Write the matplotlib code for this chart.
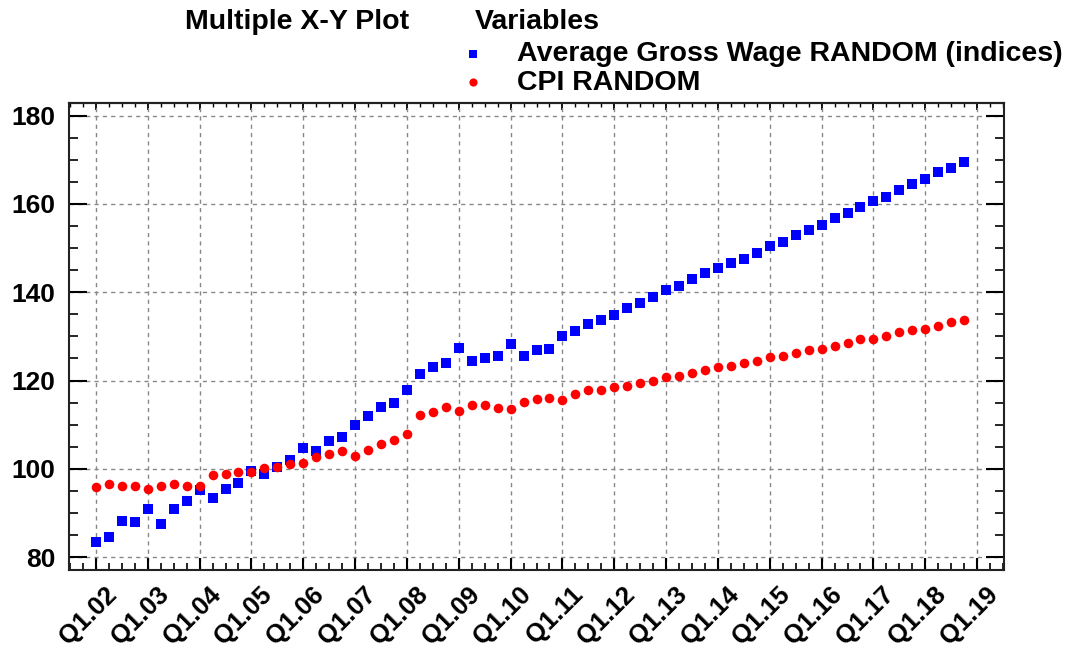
import matplotlib
matplotlib.use('Agg')
import matplotlib.pyplot as plt
import matplotlib.transforms as mtransforms
from matplotlib.ticker import MultipleLocator

plt.rcParams['font.family'] = ['Liberation Sans', 'DejaVu Sans']

# quarterly data Q1.02 .. Q4.18
wage = [83.5, 84.6, 88.3, 88.0,
        90.9, 87.5, 90.9, 92.8,
        95.2, 93.3, 95.5, 96.7,
        99.5, 98.9, 100.5, 101.9,
        104.7, 104.0, 106.3, 107.2,
        110.0, 112.0, 113.9, 114.8,
        117.8, 121.5, 123.0, 124.0,
        127.4, 124.4, 125.2, 125.5,
        128.3, 125.5, 127.0, 127.2,
        130.1, 131.3, 132.7, 133.8,
        134.9, 136.4, 137.5, 138.9,
        140.4, 141.4, 142.9, 144.3,
        145.4, 146.5, 147.6, 148.9,
        150.4, 151.4, 152.9, 154.0,
        155.3, 156.7, 157.9, 159.2,
        160.6, 161.6, 163.1, 164.5,
        165.6, 167.1, 168.2, 169.5]

cpi = [95.8, 96.5, 96.2, 96.2,
       95.5, 96.2, 96.5, 96.2,
       96.2, 98.5, 98.9, 99.2,
       99.2, 100.2, 100.5, 101.1,
       101.4, 102.7, 103.4, 104.0,
       103.0, 104.3, 105.6, 106.5,
       107.9, 112.2, 112.8, 113.9,
       113.1, 114.4, 114.4, 113.8,
       113.6, 115.1, 115.8, 116.1,
       115.6, 116.9, 117.9, 117.9,
       118.5, 118.7, 119.4, 120.0,
       120.8, 121.1, 121.7, 122.3,
       123.0, 123.3, 123.9, 124.5,
       125.3, 125.6, 126.3, 126.9,
       127.2, 127.8, 128.6, 129.3,
       129.5, 130.1, 130.9, 131.5,
       131.7, 132.4, 133.2, 133.8]

years = ['02', '03', '04', '05', '06', '07', '08', '09', '10',
         '11', '12', '13', '14', '15', '16', '17', '18', '19']
tick_labels = ['Q1.' + y for y in years]

x = list(range(len(wage)))

fig = plt.figure(figsize=(10.77, 6.48), dpi=100)
ax = fig.add_axes([0.0643, 0.1204, 0.8682, 0.7211])

ax.scatter(x, wage, marker='s', s=58, color='#0000ff', linewidths=0,
           label='Average Gross Wage RANDOM (indices)', zorder=3)
ax.scatter(x, cpi, marker='o', s=48, color='#ff0000', linewidths=0,
           label='CPI RANDOM', zorder=3)

ax.set_xlim(-2.06, 70.1)
ax.set_ylim(77.1, 182.9)

# x ticks: years major, quarters minor
ax.set_xticks([4 * i for i in range(len(years))])
ax.set_xticklabels(tick_labels)
ax.xaxis.set_minor_locator(MultipleLocator(1))
ax.yaxis.set_major_locator(MultipleLocator(20))
ax.yaxis.set_minor_locator(MultipleLocator(5))

ax.tick_params(axis='y', which='major', direction='in', length=13, width=1.5,
               left=True, right=True, labelsize=19, pad=10)
ax.tick_params(axis='y', which='minor', direction='in', length=6.5, width=1.2,
               left=True, right=True)
ax.tick_params(axis='x', which='major', direction='in', length=8.5, width=1.5,
               bottom=True, top=False, labelsize=18.5, pad=15)
ax.tick_params(axis='x', which='minor', direction='in', length=5, width=1.2,
               bottom=True, top=False)

for lbl in ax.get_yticklabels():
    lbl.set_fontweight('bold')

offset = mtransforms.ScaledTranslation(17 / 100, 0, fig.dpi_scale_trans)
for lbl in ax.get_xticklabels():
    lbl.set_fontweight('bold')
    lbl.set_rotation(45)
    lbl.set_ha('right')
    lbl.set_va('center')
    lbl.set_rotation_mode('anchor')
    lbl.set_transform(lbl.get_transform() + offset)

# top axis with shorter ticks
top = ax.secondary_xaxis('top')
top.set_xticks([4 * i for i in range(len(years))])
top.xaxis.set_minor_locator(MultipleLocator(1))
top.tick_params(axis='x', which='major', direction='in', length=5, width=1.3,
                labeltop=False)
top.tick_params(axis='x', which='minor', direction='in', length=3, width=1.0)
top.spines['top'].set_linewidth(1.5)

for sp in ax.spines.values():
    sp.set_linewidth(1.5)
    sp.set_color('#222222')

ax.grid(True, which='major', linestyle=(0, (3, 3)), color='#888888', linewidth=1)

fig.text(185 / 1077, 1 - 22 / 648, 'Multiple X-Y Plot', fontsize=20.5,
         fontweight='bold', va='center', ha='left')
fig.text(475 / 1077, 1 - 22 / 648, 'Variables', fontsize=20.5,
         fontweight='bold', va='center', ha='left')

leg = ax.legend(loc='upper left', bbox_to_anchor=(464 / 1077, 1 - 41 / 648),
                bbox_transform=fig.transFigure, frameon=False,
                prop={'size': 20.5, 'weight': 'bold'},
                handlelength=0.6, handletextpad=1.25, labelspacing=0.1,
                borderpad=0, borderaxespad=0, markerscale=0.85,
                scatterpoints=1)

fig.savefig('out.png', dpi=100)
